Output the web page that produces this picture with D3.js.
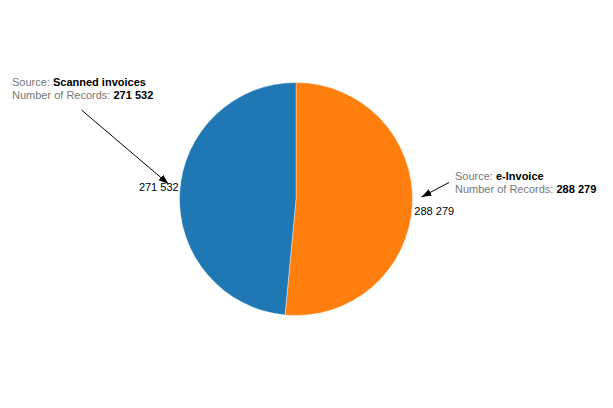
<!DOCTYPE html>
<html><head><meta charset="utf-8">
<script src="https://cdn.jsdelivr.net/npm/d3@7"></script>
<style>
html,body{margin:0;padding:0;background:#fff;}
svg{display:block;font-family:"Liberation Sans",Arial,sans-serif;}
</style></head>
<body>
<svg id="chart" width="613" height="408"></svg>
<script>
const sources = ["e-Invoice", "Scanned invoices"];
const records = [288279, 271532];
const sliceColors = ["#ff7f0e", "#1f77b4"];

const svg = d3.select("#chart");
const cx = 296, cy = 199, r = 116.5;
const fmt = v => d3.format(",")(v).replace(/,/g, " ");

const data = sources.map((s, i) => ({source: s, value: records[i], color: sliceColors[i]}));
const pie = d3.pie().sort(null).value(d => d.value).startAngle(0).endAngle(2 * Math.PI);
const arcs = pie(data);
const arc = d3.arc().innerRadius(0).outerRadius(r);

const defs = svg.append("defs");
defs.append("marker").attr("id", "arrow").attr("viewBox", "0 0 10 10")
  .attr("refX", 10).attr("refY", 5).attr("markerWidth", 10).attr("markerHeight", 10)
  .attr("markerUnits", "userSpaceOnUse").attr("orient", "auto")
  .append("path").attr("d", "M0,1.5 L10,5 L0,8.5 Z").attr("fill", "#000");

const g = svg.append("g").attr("transform", `translate(${cx},${cy})`);
g.selectAll("path.slice").data(arcs).join("path")
  .attr("class", "slice")
  .attr("d", arc)
  .attr("fill", d => d.data.color)
  .attr("stroke", "#fff").attr("stroke-width", 0.4);

// value labels at slice edge
const labelOffsets = [{dx: 2, dy: 11}, {dx: -1, dy: -3}];
g.selectAll("text.val").data(arcs).join("text")
  .attr("class", "val")
  .attr("x", (d, i) => {
    const a = (d.startAngle + d.endAngle) / 2;
    return r * Math.sin(a) + labelOffsets[i].dx;
  })
  .attr("y", (d, i) => {
    const a = (d.startAngle + d.endAngle) / 2;
    return -r * Math.cos(a) + labelOffsets[i].dy;
  })
  .attr("text-anchor", d => ((d.startAngle + d.endAngle) / 2) < Math.PI ? "start" : "end")
  .attr("font-size", 11).attr("fill", "#000")
  .text(d => fmt(d.value));

// annotations
const notes = [
  {i: 0, tx: 455, ty: 179.5, x1: 449, y1: 182.5, x2: 421.5, y2: 197},
  {i: 1, tx: 12, ty: 86, x1: 81.5, y1: 110, x2: 168.5, y2: 184}
];
notes.forEach(n => {
  const d = data[n.i];
  const t = svg.append("text").attr("x", n.tx).attr("y", n.ty).attr("font-size", 11);
  t.append("tspan").attr("fill", "#777").text("Source: ");
  t.append("tspan").attr("fill", "#000").attr("font-weight", "bold").text(d.source);
  const t2 = svg.append("text").attr("x", n.tx).attr("y", n.ty + 13).attr("font-size", 11);
  t2.append("tspan").attr("fill", "#777").text("Number of Records: ");
  t2.append("tspan").attr("fill", "#000").attr("font-weight", "bold").text(fmt(d.value));
  svg.append("line").attr("x1", n.x1).attr("y1", n.y1).attr("x2", n.x2).attr("y2", n.y2)
    .attr("stroke", "#000").attr("stroke-width", 1).attr("marker-end", "url(#arrow)");
});
</script>
</body></html>
